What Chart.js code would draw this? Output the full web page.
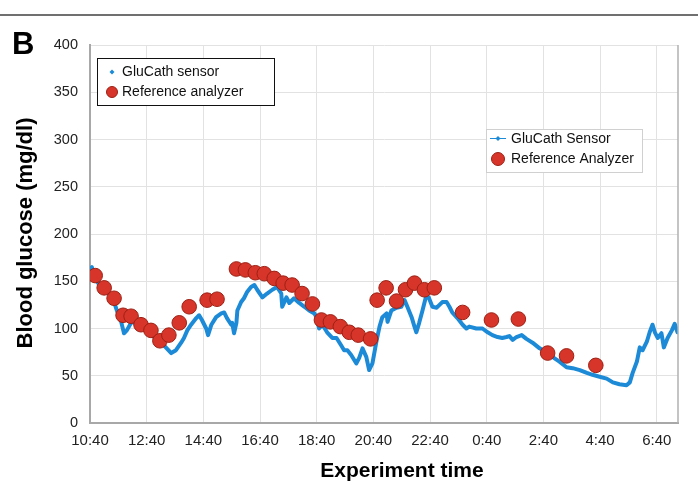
<!DOCTYPE html>
<html><head><meta charset="utf-8">
<script src="https://cdn.jsdelivr.net/npm/chart.js@4/dist/chart.umd.min.js"></script>
<style>html,body{margin:0;padding:0;background:#fff;}#wrap{width:698px;height:488px;position:relative;}</style>
</head><body><div id="wrap"><canvas id="c" width="698" height="488"></canvas></div>
<script>
// minutes after 10:40
const sensorMinutes = [0,4,8,23,36,51,57,66,72,78,87,93,104,119,131,142,157,172,182,193,199,206,214,225,231,237,246,250,257,267,278,284,290,299,301,305,310,312,320,326,333,341,348,354,365,375,386,396,405,407,416,422,432,443,454,464,475,481,485,492,502,513,522,532,538,545,553,564,570,577,585,591,598,606,613,619,628,630,638,649,659,666,672,681,687,691,697,704,712,717,725,734,740,746,755,761,767,778,789,797,803,818,831,842,852,863,873,882,888,895,903,914,924,937,952,967,979,994,1009,1022,1037,1052,1064,1079,1094,1107,1121,1136,1143,1149,1158,1164,1170,1179,1185,1191,1196,1202,1210,1215,1223,1232,1238,1244];
const sensorGlucose = [163,165,156,143,139,128,119,107,95,98,106,107,104,98,93,88,82,74,77,85,90,98,104,111,114,109,100,93,104,112,116,117,111,104,106,95,106,119,128,132,139,144,146,141,133,137,141,144,137,123,133,127,132,127,123,119,116,111,100,104,96,90,90,82,77,77,72,63,69,79,70,56,63,85,102,112,116,107,119,122,123,130,123,112,102,96,106,119,135,133,123,122,125,128,128,123,117,111,104,100,102,100,100,96,93,91,90,91,92,88,91,93,89,85,79,75,70,65,59,58,56,53,51,49,47,43,41,40,43,53,65,80,77,86,96,104,96,90,95,80,90,98,105,96];
const refMinutes = [11,30,51,70,87,108,129,148,167,189,210,248,269,310,329,350,369,390,409,428,449,471,490,509,530,549,568,594,608,627,649,668,687,708,729,789,850,907,969,1009,1071];
const refGlucose = [156,143,132,114,113,104,98,87,93,106,123,130,131,163,162,159,158,153,148,146,137,126,109,107,102,96,93,89,130,143,129,141,148,141,143,117,109,110,74,71,61];
const timeTickLabels = ['10:40','12:40','14:40','16:40','18:40','20:40','22:40','0:40','2:40','4:40','6:40'];
const glucoseTicks = [0,50,100,150,200,250,300,350,400];

const BLUE = '#1c8ad6', RED = '#d8352a', REDB = '#9c2014';
const FONT = '"Liberation Sans", Arial, sans-serif';

const deco = {
  id: 'deco',
  afterDraw(chart) {
    const ctx = chart.ctx, a = chart.chartArea;
    ctx.save();
    ctx.strokeStyle = '#707070'; ctx.lineWidth = 2;
    ctx.beginPath(); ctx.moveTo(0, 15); ctx.lineTo(698, 15); ctx.stroke();
    ctx.strokeStyle = '#b0b0b0'; ctx.lineWidth = 1.5;
    ctx.beginPath(); ctx.moveTo(a.right, a.top); ctx.lineTo(a.right, a.bottom); ctx.stroke();
    ctx.fillStyle = '#000'; ctx.textBaseline = 'middle'; ctx.textAlign = 'left';
    ctx.font = 'bold 31px ' + FONT;
    ctx.fillText('B', 12, 45);
    ctx.font = 'bold 21px ' + FONT; ctx.textAlign = 'center';
    ctx.fillText('Experiment time', 402, 471);
    ctx.save(); ctx.translate(26, 233); ctx.rotate(-Math.PI/2);
    ctx.font = 'bold 22px ' + FONT;
    ctx.fillText('Blood glucose (mg/dl)', 0, 0); ctx.restore();
    // legend 1
    ctx.fillStyle = '#fff'; ctx.fillRect(97, 58, 178, 48);
    ctx.strokeStyle = '#111'; ctx.lineWidth = 1;
    ctx.strokeRect(97.5, 58.5, 177, 47);
    ctx.font = '14px ' + FONT; ctx.textAlign = 'left';
    diamond(ctx, 112, 72, 2.5, BLUE);
    ctx.fillStyle = '#111'; ctx.fillText('GluCath sensor', 122, 72);
    circle(ctx, 112, 92, 5.5);
    ctx.fillStyle = '#111'; ctx.fillText('Reference analyzer', 122, 92);
    // legend 2
    ctx.fillStyle = '#fff'; ctx.fillRect(486, 129, 157, 44);
    ctx.strokeStyle = '#d0d0d0'; ctx.strokeRect(486.5, 129.5, 156, 43);
    ctx.strokeStyle = BLUE; ctx.lineWidth = 1;
    ctx.beginPath(); ctx.moveTo(490, 138.5); ctx.lineTo(506, 138.5); ctx.stroke();
    diamond(ctx, 498, 138.5, 2.5, BLUE);
    ctx.fillStyle = '#111'; ctx.fillText('GluCath Sensor', 511, 139);
    circle(ctx, 498, 159, 6.5);
    ctx.fillStyle = '#111'; ctx.fillText('Reference Analyzer', 511, 159);
    ctx.restore();
  }
};
function diamond(ctx, x, y, r, c) {
  ctx.fillStyle = c; ctx.beginPath();
  ctx.moveTo(x, y - r); ctx.lineTo(x + r, y); ctx.lineTo(x, y + r); ctx.lineTo(x - r, y); ctx.closePath(); ctx.fill();
}
function circle(ctx, x, y, r) {
  ctx.fillStyle = RED; ctx.strokeStyle = REDB; ctx.lineWidth = 1;
  ctx.beginPath(); ctx.arc(x, y, r, 0, Math.PI * 2); ctx.fill(); ctx.stroke();
}

new Chart(document.getElementById('c'), {
  type: 'line',
  data: {
    datasets: [
      {
        label: 'Reference analyzer',
        data: refMinutes.map((m, i) => ({x: m, y: refGlucose[i]})),
        showLine: false,
        pointRadius: 7.3, pointHoverRadius: 7.3,
        pointBackgroundColor: RED, pointBorderColor: REDB, pointBorderWidth: 1,
        order: 0
      },
      {
        label: 'GluCath sensor',
        data: sensorMinutes.map((m, i) => ({x: m, y: sensorGlucose[i]})),
        borderColor: BLUE, borderWidth: 4,
        pointRadius: 0, borderJoinStyle: 'round', borderCapStyle: 'round',
        tension: 0, order: 1
      }
    ]
  },
  options: {
    responsive: false, animation: false,
    layout: {padding: {top: 45, right: 20, left: 0, bottom: 0}},
    plugins: {legend: {display: false}, tooltip: {enabled: false}},
    scales: {
      x: {
        type: 'linear', min: 0, max: 1245,
        afterBuildTicks: s => { s.ticks = timeTickLabels.map((_, i) => ({value: i * 120})); },
        afterFit: s => { s.height = 65; },
        ticks: {
          callback: v => timeTickLabels[Math.round(v / 120)],
          font: {family: FONT, size: 15}, color: '#222', padding: 9, maxRotation: 0
        },
        grid: {color: '#e2e2e2', lineWidth: 1, drawTicks: false},
        border: {color: '#a8a8a8', width: 2}
      },
      y: {
        min: 0, max: 400,
        afterBuildTicks: s => { s.ticks = glucoseTicks.map(v => ({value: v})); },
        afterFit: s => { s.width = 90; },
        ticks: {font: {family: FONT, size: 14.5}, color: '#222', padding: 12},
        grid: {color: '#e2e2e2', lineWidth: 1, drawTicks: false},
        border: {color: '#a8a8a8', width: 2}
      }
    }
  },
  plugins: [deco]
});
</script></body></html>
